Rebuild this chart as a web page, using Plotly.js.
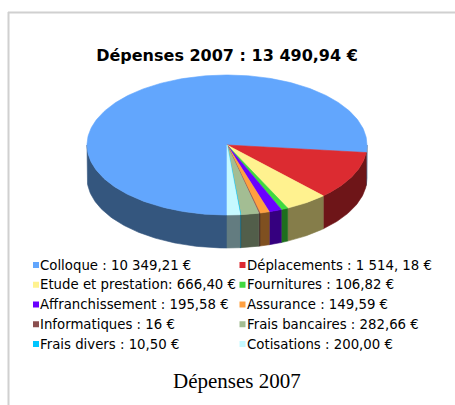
<!DOCTYPE html>
<html><head><meta charset="utf-8">
<script src="https://cdn.plot.ly/plotly-3.0.1.min.js"></script>
<style>html,body{margin:0;padding:0;background:#fff}#chart{width:455px;height:405px}</style>
</head><body><div id="chart"></div>
<script>
// ---- data ----
const categories = ['Colloque', 'Déplacements', 'Etude et prestation', 'Fournitures', 'Affranchissement',
  'Assurance', 'Informatiques', 'Frais bancaires', 'Frais divers', 'Cotisations'];
const values = [10349.21, 1514.18, 666.40, 106.82, 195.58, 149.59, 16, 282.66, 10.50, 200.00];
const legendLabels = ['Colloque : 10 349,21 €', 'Déplacements : 1 514, 18 €', 'Etude et prestation: 666,40 €',
  'Fournitures : 106,82 €', 'Affranchissement : 195,58 €', 'Assurance : 149,59 €', 'Informatiques : 16 €',
  'Frais bancaires : 282,66 €', 'Frais divers : 10,50 €', 'Cotisations : 200,00 €'];
const chartTitle = 'Dépenses 2007 : 13 490,94 €';
const caption = 'Dépenses 2007';

// ---- style ----
const topColors = ['#62a6fd', '#dc2b31', '#fff28f', '#40d840', '#6a00ff', '#ffa040', '#8b4f4f', '#a3bd93', '#00c6ff', '#c6f9ff'];
const sideColors = ['#34567e', '#6e1518', '#857d4a', '#1e6e1e', '#35007f', '#7f5020', '#452828', '#525e4a', '#00637f', '#637c80'];
const geo = {cx: 227, cy: 145, rx: 140, ry: 70, depth: 33, start: 180};
const leg = {x0: 36, colStep: 206.5, y0: 265, rowStep: 19.75, textDx: 3.2, font: 13.3};

function pt(phi, dy) {
  const r = phi * Math.PI / 180;
  return [geo.cx + geo.rx * Math.sin(r), geo.cy - geo.ry * Math.cos(r) + dy];
}
function arc(a0, a1, dy) {
  const n = Math.max(2, Math.ceil(Math.abs(a1 - a0)));
  const out = [];
  for (let k = 0; k <= n; k++) out.push(pt(a0 + (a1 - a0) * k / n, dy));
  return out;
}

const total = values.reduce((s, v) => s + v, 0);
const sideTraces = [], topTraces = [], legendAnn = [];
const legX = [], legY = [];
let acc = geo.start;
values.forEach((v, i) => {
  const a0 = acc, a1 = acc + v / total * 360;
  acc = a1;
  // top face
  const pts = [[geo.cx, geo.cy]].concat(arc(a0, a1, 0)).concat([[geo.cx, geo.cy]]);
  topTraces.push({
    type: 'scatter', mode: 'lines', x: pts.map(p => p[0]), y: pts.map(p => p[1]),
    fill: 'toself', fillcolor: topColors[i], line: {color: topColors[i], width: 0.6},
    showlegend: false, hoverinfo: 'text', text: categories[i], name: categories[i]
  });
  // visible side (front half: 90..270 deg)
  [0, 360].forEach(k => {
    const lo = Math.max(a0, 90 + k), hi = Math.min(a1, 270 + k);
    if (lo < hi) {
      const sp = arc(lo, hi, 0).concat(arc(hi, lo, geo.depth));
      sp.push(sp[0]);
      sideTraces.push({
        type: 'scatter', mode: 'lines', x: sp.map(p => p[0]), y: sp.map(p => p[1]),
        fill: 'toself', fillcolor: sideColors[i], line: {color: sideColors[i], width: 0.6},
        showlegend: false, hoverinfo: 'skip'
      });
    }
  });
  // legend entry (two columns, row-major)
  const col = i % 2, row = Math.floor(i / 2);
  const lx = leg.x0 + col * leg.colStep, ly = leg.y0 + row * leg.rowStep;
  legX.push(lx); legY.push(ly);
  legendAnn.push({text: legendLabels[i], x: lx + leg.textDx, y: ly, xref: 'x', yref: 'y',
    xanchor: 'left', yanchor: 'middle', showarrow: false, borderpad: 0,
    font: {family: 'DejaVu Sans', size: leg.font, color: '#000'}});
});
const legendMarkers = {type: 'scatter', mode: 'markers', x: legX, y: legY, showlegend: false, hoverinfo: 'skip',
  marker: {symbol: 'square', size: 6, color: topColors, line: {width: 0}}};

const layout = {
  width: 455, height: 405,
  margin: {l: 0, r: 0, t: 0, b: 0},
  paper_bgcolor: '#fff', plot_bgcolor: '#fff',
  xaxis: {range: [0, 455], visible: false, fixedrange: true},
  yaxis: {range: [405, 0], visible: false, fixedrange: true},
  title: {text: '<b>' + chartTitle + '</b>', x: 227 / 455, xanchor: 'center', y: 1 - 55.5 / 405, yanchor: 'middle',
          font: {family: 'DejaVu Sans', size: 16, color: '#000'}},
  showlegend: false,
  annotations: legendAnn.concat([{text: caption, xref: 'paper', yref: 'paper', x: 237 / 455, y: 1 - 381 / 405,
                 xanchor: 'center', yanchor: 'middle', showarrow: false,
                 font: {family: 'Liberation Serif', size: 21, color: '#000'}}]),
  shapes: [
    {type: 'line', xref: 'paper', yref: 'paper', x0: 8.5 / 455, x1: 8.5 / 455, y0: 1 - 12 / 405, y1: 0,
     line: {color: '#d0d0d0', width: 2}},
    {type: 'line', xref: 'paper', yref: 'paper', x0: 8 / 455, x1: 1, y0: 1 - 12.5 / 405, y1: 1 - 12.5 / 405,
     line: {color: '#d0d0d0', width: 2}}
  ]
};
Plotly.newPlot('chart', sideTraces.concat(topTraces).concat([legendMarkers]), layout, {staticPlot: true, displayModeBar: false});
</script></body></html>
